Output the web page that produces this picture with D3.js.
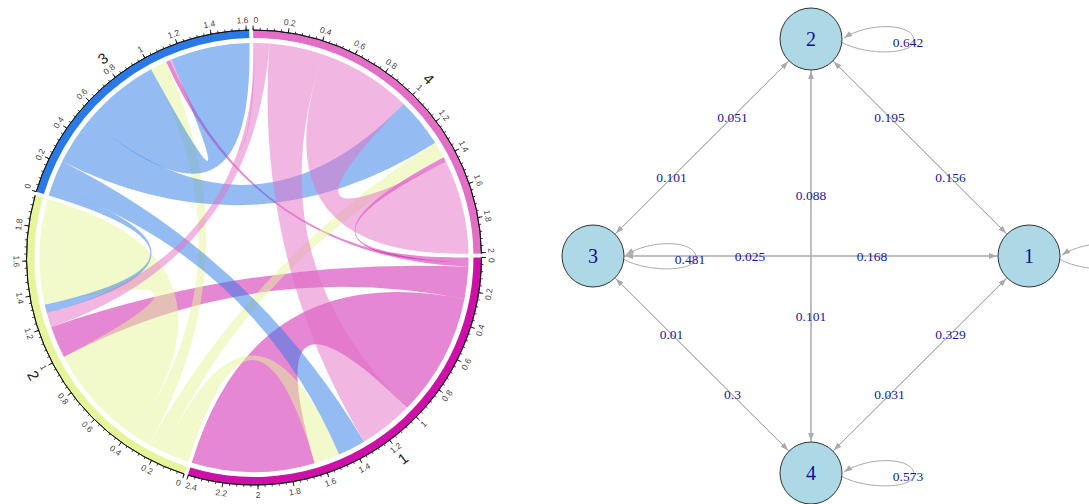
<!DOCTYPE html>
<html>
<head>
<meta charset="utf-8">
<script src="https://cdn.jsdelivr.net/npm/d3@7"></script>
<style>
  body { margin: 0; background: #fff; }
  svg { display: block; }
</style>
</head>
<body>
<div id="chart"></div>
<script>
// states of the markov chain
const states = ["1", "2", "3", "4"];

// transition probabilities, one row per "from" state (to 1, 2, 3, 4)
const from1 = [0.749, 0.195, 0.025, 0.031];
const from2 = [0.156, 0.642, 0.101, 0.101];
const from3 = [0.168, 0.051, 0.481, 0.3];
const from4 = [0.329, 0.088, 0.01, 0.573];

// diamond layout of the graph (unit coords)
const layoutX = [1, 0, -1, 0];
const layoutY = [0, 1, 0, -1];

const sectorColors = ["#CC10A8", "#E6F59A", "#2B79E5", "#E36EC6"];

const W = 1089, H = 504;
const matrix = [from1, from2, from3, from4];
const n = states.length;

const svg = d3.select("#chart").append("svg")
    .attr("width", W)
    .attr("height", H);

// ---------------- chord diagram (left) ----------------
const cx = 254, cy = 257.5;
const rOuter = 227.5, rInner = 219.5, rLink = 214.5;
const rTickLabel = rOuter + 10;
const gapDeg = 1;

const rowSum = matrix.map(r => d3.sum(r));
const colSum = states.map((s, j) => d3.sum(matrix, r => r[j]));
const sectorSize = states.map((s, i) => rowSum[i] + colSum[i]);
const unitDeg = (360 - n * gapDeg) / d3.sum(sectorSize);

// degrees clockwise from 3 o'clock -> d3 radians (0 at 12 o'clock)
const toD3 = deg => (deg + 90) * Math.PI / 180;

let startDeg = 0;
const sectors = states.map((name, i) => {
    let a0 = startDeg, a1 = startDeg + sectorSize[i] * unitDeg;
    startDeg = a1 + gapDeg;
    return {
        name: name, i: i, size: sectorSize[i], a0: a0, a1: a1,
        angle: d3.scaleLinear().domain([0, sectorSize[i]]).range([a0, a1]),
        out: {}, inn: {}
    };
});

// place links on each sector: outgoing first then incoming,
// ordered so that they cross as little as possible, self link last
sectors.forEach(sec => {
    let s = sec.i;
    let order = [(s + 3) % n, (s + 2) % n, (s + 1) % n, s];
    let pos = 0;
    order.forEach(t => { sec.out[t] = [pos, pos + matrix[s][t]]; pos += matrix[s][t]; });
    order.forEach(t => { sec.inn[t] = [pos, pos + matrix[t][s]]; pos += matrix[t][s]; });
});

const chordG = svg.append("g").attr("transform", "translate(" + cx + "," + cy + ")");

const ribbon = d3.ribbon().radius(rLink);

const links = [];
matrix.forEach((row, i) => row.forEach((v, j) => {
    if (v > 0) links.push({from: i, to: j, value: v});
}));

chordG.selectAll("path.link")
    .data(links)
    .join("path")
    .attr("class", "link")
    .attr("d", d => {
        let s = sectors[d.from], t = sectors[d.to];
        let so = s.out[d.to], ti = t.inn[d.from];
        return ribbon({
            source: {startAngle: toD3(s.angle(so[0])), endAngle: toD3(s.angle(so[1]))},
            target: {startAngle: toD3(t.angle(ti[0])), endAngle: toD3(t.angle(ti[1]))}
        });
    })
    .attr("fill", d => sectorColors[d.from])
    .attr("fill-opacity", 0.5)
    .attr("stroke", "none");

// outer track
const trackArc = d3.arc().innerRadius(rInner).outerRadius(rOuter);
chordG.selectAll("path.track")
    .data(sectors)
    .join("path")
    .attr("class", "track")
    .attr("d", d => trackArc({startAngle: toD3(d.a0), endAngle: toD3(d.a1)}))
    .attr("fill", d => sectorColors[d.i]);

// axis line on the top of the track
const axisArc = d3.arc().innerRadius(rOuter).outerRadius(rOuter);
chordG.selectAll("path.axisline")
    .data(sectors)
    .join("path")
    .attr("class", "axisline")
    .attr("d", d => axisArc({startAngle: toD3(d.a0), endAngle: toD3(d.a1)}))
    .attr("fill", "none")
    .attr("stroke", "#111")
    .attr("stroke-width", 0.9);

function polar(deg, r) {
    let a = deg * Math.PI / 180;
    return [r * Math.cos(a), r * Math.sin(a)];
}

// text rotation that keeps labels readable (circlize niceFacing)
function facing(deg) {
    let d = ((deg % 360) + 360) % 360;
    let r = d + 90;
    if (d > 0.5 && d < 180) r -= 180;
    return r;
}

sectors.forEach(sec => {
    let minor = d3.range(0, Math.floor(sec.size / 0.04 + 1e-6) + 1).map(k => k * 0.04);
    let major = d3.range(0, Math.floor(sec.size / 0.2 + 1e-6) + 1).map(k => +(k * 0.2).toFixed(1));

    let g = chordG.append("g");

    g.selectAll("line.minor")
        .data(minor)
        .join("line")
        .attr("x1", v => polar(sec.angle(v), rOuter)[0])
        .attr("y1", v => polar(sec.angle(v), rOuter)[1])
        .attr("x2", v => polar(sec.angle(v), rOuter + 2.2)[0])
        .attr("y2", v => polar(sec.angle(v), rOuter + 2.2)[1])
        .attr("stroke", "#111")
        .attr("stroke-width", 0.8);

    g.selectAll("line.major")
        .data(major)
        .join("line")
        .attr("x1", v => polar(sec.angle(v), rOuter)[0])
        .attr("y1", v => polar(sec.angle(v), rOuter)[1])
        .attr("x2", v => polar(sec.angle(v), rOuter + 4.5)[0])
        .attr("y2", v => polar(sec.angle(v), rOuter + 4.5)[1])
        .attr("stroke", "#111")
        .attr("stroke-width", 0.9);

    let labels = g.selectAll("text.tick")
        .data(major)
        .join("text")
        .attr("class", "tick")
        .attr("text-anchor", "middle")
        .attr("dominant-baseline", "central")
        .style("font-family", "Liberation Sans, Arial, sans-serif")
        .style("font-size", "8.5px")
        .style("fill", "#444")
        .text(v => String(v));

    // keep the labels at both ends inside the sector
    labels.attr("transform", function(v) {
        let hw = this.getComputedTextLength() / 2 + 0.5;
        let pxPerUnit = unitDeg * Math.PI / 180 * rTickLabel;
        let toStart = v * pxPerUnit, toEnd = (sec.size - v) * pxPerUnit;
        let deg = sec.angle(v);
        if (toStart < hw) deg += (hw - toStart) / rTickLabel * 180 / Math.PI;
        if (toEnd < hw) deg -= (hw - toEnd) / rTickLabel * 180 / Math.PI;
        let p = polar(deg, rTickLabel);
        return "translate(" + p[0] + "," + p[1] + ") rotate(" + facing(deg) + ")";
    });

    // sector name
    let mid = (sec.a0 + sec.a1) / 2;
    let p = polar(mid, 250);
    g.append("text")
        .attr("transform", "translate(" + p[0] + "," + p[1] + ") rotate(" + facing(mid) + ")")
        .attr("text-anchor", "middle")
        .attr("dominant-baseline", "central")
        .style("font-family", "Liberation Sans, Arial, sans-serif")
        .style("font-size", "15px")
        .style("fill", "#222")
        .text(sec.name);
});

// ---------------- transition graph (right) ----------------
const gx = d3.scaleLinear().domain([-1, 1]).range([593, 1029]);
const gy = d3.scaleLinear().domain([-1, 1]).range([473, 39]);
const nodeR = 31;
const edgeColor = "#ABABAB";
const labelFrac = 0.64;

svg.append("defs").append("marker")
    .attr("id", "arrow")
    .attr("viewBox", "0 -5 10 10")
    .attr("refX", 10)
    .attr("refY", 0)
    .attr("markerUnits", "userSpaceOnUse")
    .attr("markerWidth", 10)
    .attr("markerHeight", 8)
    .attr("orient", "auto")
    .append("path")
    .attr("d", "M0,-3.6L10,0L0,3.6Z")
    .attr("fill", edgeColor);

const nodes = states.map((s, i) => ({name: s, x: gx(layoutX[i]), y: gy(layoutY[i])}));

const graphG = svg.append("g");

const edges = links.filter(d => d.from !== d.to);
const loops = links.filter(d => d.from === d.to);

graphG.selectAll("line.edge")
    .data(edges)
    .join("line")
    .attr("class", "edge")
    .each(function(d) {
        let a = nodes[d.from], b = nodes[d.to];
        let dx = b.x - a.x, dy = b.y - a.y, len = Math.hypot(dx, dy);
        let ux = dx / len, uy = dy / len;
        d3.select(this)
            .attr("x1", a.x + ux * nodeR)
            .attr("y1", a.y + uy * nodeR)
            .attr("x2", b.x - ux * (nodeR + 1))
            .attr("y2", b.y - uy * (nodeR + 1));
    })
    .attr("stroke", edgeColor)
    .attr("stroke-width", 1)
    .attr("marker-end", "url(#arrow)");

graphG.selectAll("path.loop")
    .data(loops)
    .join("path")
    .attr("class", "loop")
    .attr("d", d => {
        let a = nodes[d.from];
        let x = a.x, y = a.y;
        return "M" + (x + nodeR - 1) + "," + (y + 3) +
            "C" + (x + 55) + "," + (y + 17) + " " + (x + 104) + "," + (y + 16) + " " + (x + 103) + "," + (y + 1) +
            "C" + (x + 102) + "," + (y - 16) + " " + (x + 58) + "," + (y - 17) + " " + (x + nodeR + 2) + "," + (y - 1);
    })
    .attr("fill", "none")
    .attr("stroke", edgeColor)
    .attr("stroke-width", 1)
    .attr("marker-end", "url(#arrow)");

graphG.selectAll("circle.node")
    .data(nodes)
    .join("circle")
    .attr("class", "node")
    .attr("cx", d => d.x)
    .attr("cy", d => d.y)
    .attr("r", nodeR)
    .attr("fill", "#ADD8E6")
    .attr("stroke", "#333")
    .attr("stroke-width", 1);

graphG.selectAll("text.nodelabel")
    .data(nodes)
    .join("text")
    .attr("class", "nodelabel")
    .attr("x", d => d.x)
    .attr("y", d => d.y)
    .attr("text-anchor", "middle")
    .attr("dominant-baseline", "central")
    .style("font-family", "Liberation Serif, Times New Roman, serif")
    .style("font-size", "20px")
    .style("fill", "#10108C")
    .text(d => d.name);

const edgeLabelStyle = sel => sel
    .attr("text-anchor", "middle")
    .attr("dominant-baseline", "central")
    .style("font-family", "Liberation Serif, Times New Roman, serif")
    .style("font-size", "13.5px")
    .style("fill", "#1818A0");

graphG.selectAll("text.edgelabel")
    .data(edges)
    .join("text")
    .attr("class", "edgelabel")
    .attr("x", d => nodes[d.from].x + labelFrac * (nodes[d.to].x - nodes[d.from].x))
    .attr("y", d => nodes[d.from].y + labelFrac * (nodes[d.to].y - nodes[d.from].y))
    .call(edgeLabelStyle)
    .text(d => String(d.value));

// the loop label of state 1 falls outside the picture, as in the original
graphG.selectAll("text.looplabel")
    .data(loops.filter(d => nodes[d.from].x + 110 < W))
    .join("text")
    .attr("class", "looplabel")
    .attr("x", d => nodes[d.from].x + 97)
    .attr("y", d => nodes[d.from].y + 3)
    .call(edgeLabelStyle)
    .text(d => String(d.value));
</script>
</body>
</html>
